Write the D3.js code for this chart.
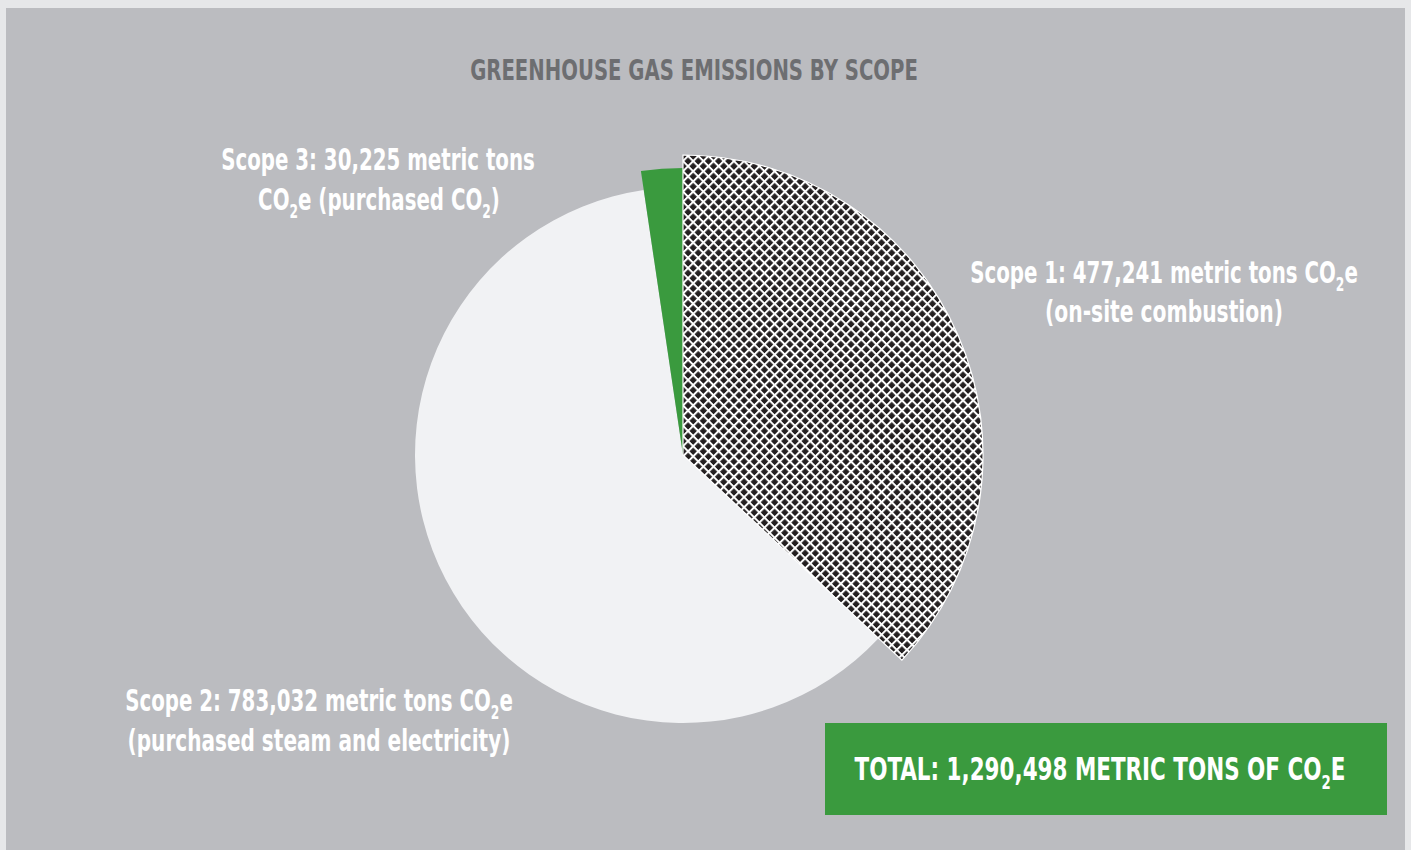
<!DOCTYPE html>
<html>
<head>
<meta charset="utf-8">
<script src="https://cdn.jsdelivr.net/npm/d3@7"></script>
<style>
  html, body { margin: 0; padding: 0; background: #e6e7e9; }
  svg { display: block; }
  .lbl { font-family: "DejaVu Sans Condensed", "DejaVu Sans", "Liberation Sans Narrow", sans-serif; font-weight: 700; font-stretch: condensed; }
</style>
</head>
<body>
<svg id="chart" width="1411" height="850"></svg>
<script>
// Emissions by scope, in metric tons of CO2e
const categories = ["Scope 1", "Scope 2", "Scope 3"];
const values = [477241, 783032, 30225];
const descriptions = ["on-site combustion", "purchased steam and electricity", "purchased CO_2"];
const chartTitle = "GREENHOUSE GAS EMISSIONS BY SCOPE";

const W = 1411, H = 850;
const svg = d3.select("#chart");
const fmt = d3.format(",");

// background panel
svg.append("rect").attr("x", 0).attr("y", 0).attr("width", W).attr("height", H).attr("fill", "#e6e7e9");
svg.append("rect").attr("x", 6).attr("y", 8).attr("width", W - 12).attr("height", H - 8).attr("fill", "#bbbcc0");

// cross-hatch fill for Scope 1
const P = 7.2, LW = 2;
const defs = svg.append("defs");
const pat = defs.append("pattern")
  .attr("id", "hatch").attr("patternUnits", "userSpaceOnUse")
  .attr("width", P).attr("height", P)
  .attr("patternTransform", "rotate(45)");
pat.append("rect").attr("width", P).attr("height", P).attr("fill", "#231f20");
pat.append("rect").attr("x", 0).attr("y", 0).attr("width", P).attr("height", LW).attr("fill", "#ffffff");
pat.append("rect").attr("x", 0).attr("y", 0).attr("width", LW).attr("height", P).attr("fill", "#ffffff");

const sliceStyle = {
  "Scope 1": { fill: "url(#hatch)", r: 300, stroke: "#ffffff" },
  "Scope 2": { fill: "#f1f2f4", r: 268, stroke: "none" },
  "Scope 3": { fill: "#3a9a3e", r: 287, stroke: "none" }
};
const drawOrder = ["Scope 2", "Scope 3", "Scope 1"];

const cx = 683, cy = 455;
const pie = d3.pie().sort(null).value(d => d.value);
const arcs = pie(categories.map((c, i) => ({ cat: c, value: values[i] })));
arcs.sort((a, b) => drawOrder.indexOf(a.data.cat) - drawOrder.indexOf(b.data.cat));

const g = svg.append("g").attr("transform", `translate(${cx},${cy})`);
g.selectAll("path").data(arcs).join("path")
  .attr("d", d => d3.arc().innerRadius(0).outerRadius(sliceStyle[d.data.cat].r)(d))
  .attr("fill", d => sliceStyle[d.data.cat].fill)
  .attr("stroke", d => sliceStyle[d.data.cat].stroke)
  .attr("stroke-width", 1.2);

// text helper: "_2" marks a subscript digit
function addRich(sel, str, size) {
  const parts = str.split(/(_\d)/);
  let sub = false;
  parts.forEach(p => {
    if (!p) return;
    if (/^_\d$/.test(p)) {
      sel.append("tspan").attr("font-size", size * 0.62).attr("dy", size * 0.28).text(p.slice(1));
      sub = true;
    } else {
      const t = sel.append("tspan").text(p);
      if (sub) { t.attr("dy", -size * 0.28); sub = false; }
    }
  });
}

// draws a centred line of text, squeezed horizontally to the given width
function fitLine(str, x, y, width, size, color) {
  const t = svg.append("text").attr("class", "lbl")
    .attr("x", 0).attr("y", 0)
    .attr("text-anchor", "middle").attr("font-size", size).attr("fill", color);
  addRich(t, str, size);
  const w = t.node().getComputedTextLength();
  const k = w > 0 ? width / w : 1;
  t.attr("transform", `translate(${x},${y}) scale(${k},1)`);
  return t;
}

// title
fitLine(chartTitle, 694, 80, 448, 28, "#6d6e71");

// slice labels
const lab = categories.map((c, i) => `${c}: ${fmt(values[i])} metric tons`);
fitLine(`${lab[0]} CO_2e`, 1164, 283, 388, 30, "#ffffff");
fitLine(`(${descriptions[0]})`, 1164, 322, 238, 30, "#ffffff");
fitLine(`${lab[1]} CO_2e`, 319, 711, 388, 30, "#ffffff");
fitLine(`(${descriptions[1]})`, 319, 751, 383, 30, "#ffffff");
fitLine(lab[2], 378, 170, 314, 30, "#ffffff");
fitLine(`CO_2e (${descriptions[2]})`, 379, 210, 242, 30, "#ffffff");

// total box
const total = d3.sum(values);
svg.append("rect").attr("x", 825).attr("y", 723).attr("width", 562).attr("height", 92).attr("fill", "#3a9a3e");
fitLine(`TOTAL: ${fmt(total)} METRIC TONS OF CO_2E`, 1100, 780, 491, 32, "#ffffff");
</script>
</body>
</html>
